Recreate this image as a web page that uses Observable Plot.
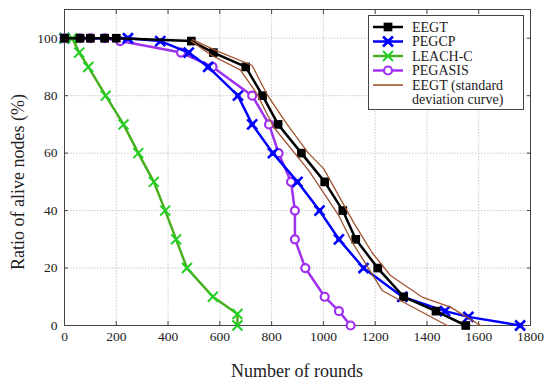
<!DOCTYPE html>
<html>
<head>
<meta charset="utf-8">
<script src="https://cdn.jsdelivr.net/npm/d3@7"></script>
<script src="https://cdn.jsdelivr.net/npm/@observablehq/plot@0.6"></script>
<style>
  html, body { margin: 0; padding: 0; background: white; }
  #chart svg { display: block; }
  #chart svg text { font-family: 'Liberation Serif', 'Times New Roman', 'DejaVu Serif', serif !important; }
</style>
</head>
<body>
<div id="chart"></div>
<script>
// ---- data ----
const xTicks = [0, 200, 400, 600, 800, 1000, 1200, 1400, 1600, 1800];
const yTicks = [0, 20, 40, 60, 80, 100];
const xDomain = [0, 1800];
const yDomain = [0, 110];

const eegtRounds = [0, 60, 100, 155, 200, 490, 575, 700, 765, 825, 915, 1005, 1075, 1125, 1210, 1310, 1435, 1550];
const eegtAlive  = [100, 100, 100, 100, 100, 99, 95, 90, 80, 70, 60, 50, 40, 30, 20, 10, 5, 0];

const pegcpRounds = [0, 245, 370, 480, 555, 670, 725, 805, 900, 985, 1060, 1155, 1305, 1470, 1560, 1760];
const pegcpAlive  = [100, 100, 99, 95, 90, 80, 70, 60, 50, 40, 30, 20, 10, 5, 3, 0];

const leachRounds = [0, 30, 57, 92, 159, 228, 285, 345, 389, 431, 473, 573, 668, 668];
const leachAlive  = [100, 100, 95, 90, 80, 70, 60, 50, 40, 30, 20, 10, 4, 0];

const pegasisRounds = [0, 60, 100, 155, 215, 450, 572, 725, 790, 827, 875, 890, 890, 930, 1005, 1060, 1105];
const pegasisAlive  = [100, 100, 100, 100, 99, 95, 90, 80, 70, 60, 50, 40, 30, 20, 10, 5, 0];

const stdHiRounds = [495, 588, 724, 785, 860, 942, 1001, 1116, 1187, 1259, 1381, 1491, 1607];
const stdHiAlive  = [99.5, 95.6, 90.6, 80, 70, 60, 54.6, 36, 25.5, 17.4, 9.9, 6.4, 0];
const stdLoRounds = [490, 569, 679, 743, 808, 943, 1059, 1111, 1175, 1227, 1297, 1478];
const stdLoAlive  = [99, 94, 89, 80.7, 69, 54, 38.3, 29, 19.8, 12.2, 8.7, 0];

const seriesNames = ["EEGT", "PEGCP", "LEACH-C", "PEGASIS", "EEGT (standard", "deviation curve)"];
const xLabel = "Number of rounds";
const yLabel = "Ratio of alive nodes (%)";

const zip = (xs, ys) => xs.map((x, i) => ({x, y: ys[i]}));
const eegt = zip(eegtRounds, eegtAlive);
const pegcp = zip(pegcpRounds, pegcpAlive);
const leach = zip(leachRounds, leachAlive);
const pegasis = zip(pegasisRounds, pegasisAlive);
const stdHi = zip(stdHiRounds, stdHiAlive);
const stdLo = zip(stdLoRounds, stdLoAlive);

const C = {
  eegt: "#000000",
  pegcp: "#0000ff",
  leachLine: "#46b01e",
  leachDot: "#22d022",
  pegasis: "#a030f0",
  std: "#a0522d",
  frame: "#444444",
  grid: "#c8c8c8",
  text: "#222222"
};
const serif = "'Liberation Serif', 'Times New Roman', 'DejaVu Serif', serif";

const plot = Plot.plot({
  width: 550,
  height: 380,
  marginTop: 9,
  marginRight: 20,
  marginBottom: 55,
  marginLeft: 64,
  style: {fontFamily: serif, fontSize: "13.5px", color: C.text, background: "white", overflow: "visible"},
  x: {domain: xDomain},
  y: {domain: yDomain},
  marks: [
    Plot.gridX(xTicks, {stroke: C.grid, strokeOpacity: 1, strokeDasharray: "1.5,1.5"}),
    Plot.gridY(yTicks, {stroke: C.grid, strokeOpacity: 1, strokeDasharray: "1.5,1.5"}),
    // inward tick marks on all four sides
    Plot.axisX(xTicks, {anchor: "bottom", tickSize: 4, dy: -4, fill: "none", label: null, stroke: C.frame}),
    Plot.axisX(xTicks, {anchor: "top", tickSize: 4, dy: 4, fill: "none", label: null, stroke: C.frame}),
    Plot.axisY(yTicks, {anchor: "left", tickSize: 4, dx: 4, fill: "none", label: null, stroke: C.frame}),
    Plot.axisY(yTicks, {anchor: "right", tickSize: 4, dx: -4, fill: "none", label: null, stroke: C.frame}),
    // tick labels
    Plot.axisX(xTicks, {anchor: "bottom", tickSize: 0, tickPadding: 6, label: null, tickFormat: d3.format("d"), fontSize: 13.5, fontFamily: serif, fill: C.text}),
    Plot.axisY(yTicks, {anchor: "left", tickSize: 0, tickPadding: 7, label: null, tickFormat: d3.format("d"), fontSize: 13.5, fontFamily: serif, fill: C.text}),
    Plot.frame({stroke: C.frame, strokeWidth: 1}),
    // series
    Plot.line(pegasis, {x: "x", y: "y", stroke: C.pegasis, strokeWidth: 2.5}),
    Plot.dot(pegasis, {x: "x", y: "y", symbol: "circle", r: 4, stroke: C.pegasis, strokeWidth: 2.2, fill: "white"}),
    Plot.line(pegcp, {x: "x", y: "y", stroke: C.pegcp, strokeWidth: 2.5}),
    Plot.dot(pegcp, {x: "x", y: "y", symbol: "square", r: 2.9, fill: C.pegcp}),
    Plot.dot(pegcp, {x: "x", y: "y", symbol: "times", r: 4.6, stroke: C.pegcp, strokeWidth: 2.6}),
    Plot.line(leach, {x: "x", y: "y", stroke: C.leachLine, strokeWidth: 2.5}),
    Plot.dot(leach, {x: "x", y: "y", symbol: "times", r: 4.6, stroke: C.leachDot, strokeWidth: 2}),
    Plot.line(eegt, {x: "x", y: "y", stroke: C.eegt, strokeWidth: 2.5}),
    Plot.dot(eegt, {x: "x", y: "y", symbol: "square", r: 4.9, fill: C.eegt}),
    Plot.line(stdHi, {x: "x", y: "y", stroke: C.std, strokeWidth: 1.3}),
    Plot.line(stdLo, {x: "x", y: "y", stroke: C.std, strokeWidth: 1.3})
  ]
});

document.getElementById("chart").appendChild(plot);

const svg = d3.select(plot);

// ---- axis titles ----
svg.append("text").attr("transform", "translate(297,377)")
  .attr("text-anchor", "middle").attr("font-family", serif).attr("font-size", 18).attr("fill", C.text)
  .text(xLabel);
svg.append("text").attr("transform", "translate(24,182) rotate(-90)")
  .attr("text-anchor", "middle").attr("font-family", serif).attr("font-size", 18).attr("fill", C.text)
  .text(yLabel);

// ---- legend (drawn into the same SVG) ----
const lg = svg.append("g").attr("font-family", serif).attr("font-size", 14).attr("fill", C.text).attr("text-anchor", "start");
const box = {x: 368.5, y: 15.5, w: 155, h: 94};
lg.append("rect").attr("x", box.x).attr("y", box.y).attr("width", box.w).attr("height", box.h)
  .attr("fill", "white").attr("stroke", C.frame).attr("stroke-width", 1);

const rowY = [27, 41.5, 56, 70.5, 85, 99.5];
const lx1 = 373, lx2 = 403, mx = 388, tx = 412;
const sym = (type, size) => d3.symbol(type, size)();

// EEGT
lg.append("line").attr("x1", lx1).attr("x2", lx2).attr("y1", rowY[0]).attr("y2", rowY[0]).attr("stroke", C.eegt).attr("stroke-width", 2.5);
lg.append("path").attr("d", sym(d3.symbolSquare, Math.PI * 4.9 * 4.9)).attr("transform", `translate(${mx},${rowY[0]})`).attr("fill", C.eegt);
// PEGCP
lg.append("line").attr("x1", lx1).attr("x2", lx2).attr("y1", rowY[1]).attr("y2", rowY[1]).attr("stroke", C.pegcp).attr("stroke-width", 2.5);
lg.append("path").attr("d", sym(d3.symbolSquare, Math.PI * 2.9 * 2.9)).attr("transform", `translate(${mx},${rowY[1]})`).attr("fill", C.pegcp);
lg.append("path").attr("d", sym(d3.symbolTimes, Math.PI * 4.6 * 4.6)).attr("transform", `translate(${mx},${rowY[1]})`).attr("fill", "none").attr("stroke", C.pegcp).attr("stroke-width", 2.6);
// LEACH-C
lg.append("line").attr("x1", lx1).attr("x2", lx2).attr("y1", rowY[2]).attr("y2", rowY[2]).attr("stroke", C.leachLine).attr("stroke-width", 2.5);
lg.append("path").attr("d", sym(d3.symbolTimes, Math.PI * 4.6 * 4.6)).attr("transform", `translate(${mx},${rowY[2]})`).attr("fill", "none").attr("stroke", C.leachDot).attr("stroke-width", 2);
// PEGASIS
lg.append("line").attr("x1", lx1).attr("x2", lx2).attr("y1", rowY[3]).attr("y2", rowY[3]).attr("stroke", C.pegasis).attr("stroke-width", 2.5);
lg.append("circle").attr("cx", mx).attr("cy", rowY[3]).attr("r", 4).attr("fill", "white").attr("stroke", C.pegasis).attr("stroke-width", 2.2);
// std
lg.append("line").attr("x1", lx1).attr("x2", lx2).attr("y1", rowY[4]).attr("y2", rowY[4]).attr("stroke", C.std).attr("stroke-width", 1.6);

seriesNames.forEach((name, i) => {
  lg.append("text").attr("x", tx).attr("y", rowY[i]).attr("dy", "0.33em").text(name);
});
</script>
</body>
</html>
